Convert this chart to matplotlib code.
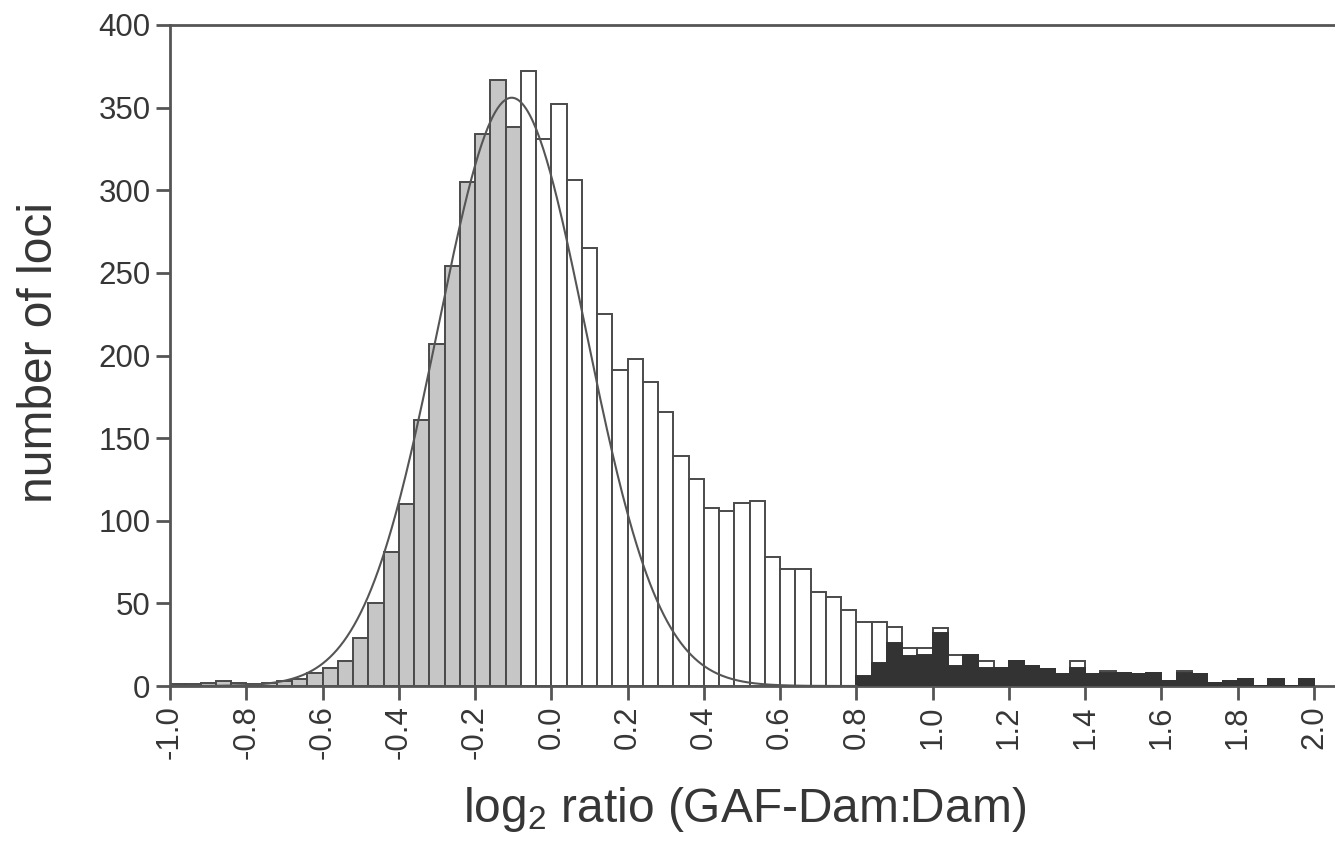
import numpy as np
import matplotlib
matplotlib.use("Agg")
import matplotlib.pyplot as plt

plt.rcParams['font.family'] = ['Liberation Sans', 'DejaVu Sans']
plt.rcParams['mathtext.fontset'] = 'custom'
plt.rcParams['mathtext.rm'] = 'Liberation Sans'

# ---- data ----
bin_start = -1.0
bin_width = 0.04

# counts for bins starting at -1.00 ... -0.12 (grey part)
grey_counts = [1, 1, 2, 3, 2, 1, 2, 3, 4, 8, 11, 15, 29, 50, 81, 110,
               161, 207, 254, 305, 334, 367, 338]
# counts for bins starting at -0.08 ... 1.96 (white part)
white_counts = [372, 331, 352, 306, 265, 225, 191, 198, 184, 166, 139, 125,
                108, 106, 111, 112, 78, 71, 71, 57, 54, 46, 39, 39, 36, 23,
                23, 35, 19, 19, 15, 11, 15, 12, 10, 7, 15, 7, 9, 8, 7, 8, 3,
                9, 7, 2, 3, 4, 0, 4, 0, 4]
# counts of the dark subset for bins starting at 0.80 ... 1.96
black_start = 0.80
black_counts = [6, 14, 26, 18, 19, 32, 12, 19, 11, 11, 15, 12, 10, 7, 11, 7,
                8, 8, 7, 8, 3, 8, 7, 2, 3, 4, 0, 4, 0, 4]

# fitted normal curve (parameters)
fit_mean = -0.104
fit_sd = 0.194
fit_peak = 356
fit_range = (-1.0, 0.80)

x_ticks = [-1.0, -0.8, -0.6, -0.4, -0.2, 0.0, 0.2, 0.4, 0.6, 0.8, 1.0,
           1.2, 1.4, 1.6, 1.8, 2.0]
y_ticks = [0, 50, 100, 150, 200, 250, 300, 350, 400]

# ---- figure ----
W, H = 1335, 849
fig = plt.figure(figsize=(W / 100, H / 100), dpi=100)
left, right, bottom, top = 170, 1335, 686, 25
ax = fig.add_axes([left / W, 1 - bottom / H, (right - left) / W, (bottom - top) / H])

edge = '#4a4a4a'
txt = '#363636'
lw = 1.4

n_grey = len(grey_counts)
grey_x = [bin_start + bin_width * i for i in range(n_grey)]
white_x = [bin_start + bin_width * (n_grey + i) for i in range(len(white_counts))]
black_x = [black_start + bin_width * i for i in range(len(black_counts))]

ax.bar(grey_x, grey_counts, width=bin_width, align='edge', color='#c6c6c6',
       edgecolor=edge, linewidth=lw, zorder=2)
ax.bar(white_x, white_counts, width=bin_width, align='edge', color='white',
       edgecolor=edge, linewidth=lw, zorder=2)
ax.bar(black_x, black_counts, width=bin_width, align='edge', color='#333333',
       edgecolor='#333333', linewidth=lw, zorder=3)

xc = np.linspace(fit_range[0], fit_range[1], 400)
yc = fit_peak * np.exp(-0.5 * ((xc - fit_mean) / fit_sd) ** 2)
ax.plot(xc, yc, color='#555555', linewidth=1.5, zorder=4)

ax.set_xlim(-1.0, 2.055)
ax.set_ylim(0, 400)
ax.set_xticks(x_ticks)
ax.set_xticklabels([f"{v:.1f}" for v in x_ticks], rotation=90)
ax.set_yticks(y_ticks)
ax.tick_params(axis='both', direction='out', length=10, width=2, color='#555555',
               labelsize=22.5, labelcolor=txt, pad=4)

for s in ['left', 'bottom', 'top']:
    ax.spines[s].set_color('#555555')
    ax.spines[s].set_linewidth(2)
ax.spines['right'].set_visible(False)

fig.text(40 / W, 1 - 352 / H, 'number of loci', rotation=90, ha='center',
         va='center', fontsize=34.5, color=txt)
fig.text(745 / W, 1 - 810 / H, r'log$_{\mathregular{2}}$ ratio (GAF-Dam:Dam)',
         ha='center', va='center', fontsize=34.5, color=txt)

fig.savefig('out.png', dpi=100)
